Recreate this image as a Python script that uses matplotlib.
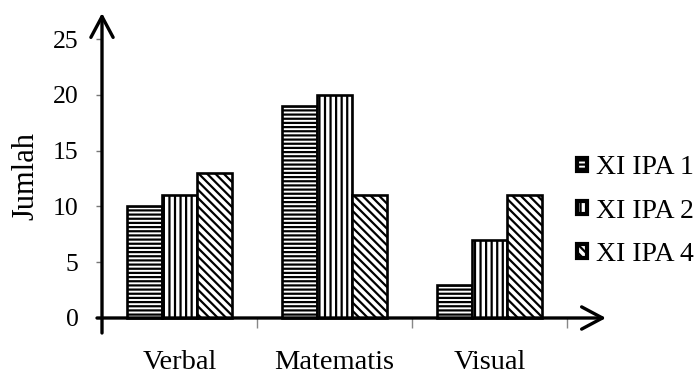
import matplotlib
matplotlib.use("Agg")
import matplotlib.pyplot as plt
from matplotlib.patches import Patch
import numpy as np

categories = ["Verbal", "Matematis", "Visual"]
series_names = ["XI IPA 1", "XI IPA 2", "XI IPA 4"]
ipa1 = [10, 19, 3]
ipa2 = [11, 20, 7]
ipa4 = [13, 11, 11]
yticks = [0, 5, 10, 15, 20, 25]

plt.rcParams['font.family'] = ['Liberation Serif', 'DejaVu Serif']
plt.rcParams['hatch.linewidth'] = 1.6
plt.rcParams['hatch.color'] = 'black'

W, H = 695, 369
fig = plt.figure(figsize=(W / 100, H / 100), dpi=100)

# axes placement in pixels
px_left, px_right, px_top, px_bot = 96, 610, 12, 335
ax = fig.add_axes([px_left / W, (H - px_bot) / H, (px_right - px_left) / W, (px_bot - px_top) / H])

# data <-> pixel mapping: x=-0.5 at px 102, 155 px per category; y=0 at 318, 11.16 px/unit
def xdat(px):
    return (px - 102) / 155 - 0.5

def ydat(py):
    return (318 - py) / 11.16

ax.set_xlim(xdat(px_left), xdat(px_right))
ax.set_ylim(ydat(px_bot), ydat(px_top))

x = np.arange(len(categories))
w = 0.226
hatches = ['----', '|||', '\\\\\\\\']
for i, (vals, hatch) in enumerate(zip([ipa1, ipa2, ipa4], hatches)):
    ax.bar(x + (i - 1) * w, vals, width=w, facecolor='white', edgecolor='black',
           linewidth=1.9, hatch=hatch, zorder=2)

# axes as arrows
for s in ax.spines.values():
    s.set_color('none')
ax.spines['left'].set_position(('data', -0.5))
ax.spines['bottom'].set_position(('data', 0))

arrow = dict(arrowstyle='->, head_length=0.75, head_width=0.4', lw=2.4, color='black',
             shrinkA=0, shrinkB=0, mutation_scale=20)
ax.annotate('', xy=(-0.5, ydat(13)), xytext=(-0.5, ydat(333)), arrowprops=arrow,
            annotation_clip=False, zorder=3)
ax.annotate('', xy=(xdat(606), 0), xytext=(xdat(97), 0), arrowprops=arrow,
            annotation_clip=False, zorder=3)

ax.set_yticks(yticks)
ax.set_yticklabels([str(t) for t in yticks], fontsize=18.5)
ax.tick_params(axis='y', direction='out', length=4, width=1, color='#777777', pad=13)

ax.set_xticks(x)
ax.set_xticklabels(categories, fontsize=20.5)
ax.set_xticks([0.5, 1.5, 2.5], minor=True)
ax.tick_params(axis='x', which='major', length=0, pad=23)
ax.tick_params(axis='x', which='minor', direction='out', length=7, width=1, color='#888888')

fig.text(26 / W, 1 - 176 / H, "Jumlah", rotation=90, fontsize=22, ha='center', va='center')

handles = [Patch(facecolor='white', edgecolor='black', hatch=h, linewidth=3) for h in hatches]
fig.legend(handles, series_names, loc='center left', bbox_to_anchor=(577 / W, 1 - 211 / H),
           frameon=False, fontsize=20, handlelength=0.36, handleheight=0.36,
           handletextpad=0.32, labelspacing=0.66, borderpad=0, borderaxespad=0)

fig.savefig("out.png", dpi=100)
